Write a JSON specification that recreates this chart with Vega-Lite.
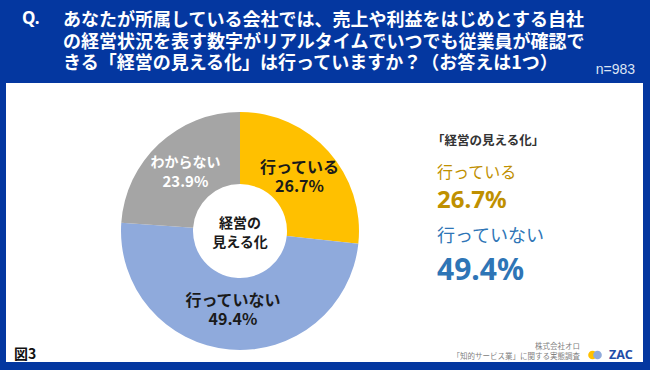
{
  "$schema": "https://vega.github.io/schema/vega-lite/v6.json",
  "width": 637,
  "height": 279,
  "autosize": {"type": "none"},
  "padding": {"left": 6, "top": 83, "right": 7, "bottom": 8},
  "background": "#0437A0",
  "config": {"view": {"fill": "white", "stroke": null}, "font": "Noto Sans CJK JP"},
  "data": {"values": [
    {"answer": "行っている", "share": 0.267, "rank": 1},
    {"answer": "行っていない", "share": 0.494, "rank": 2},
    {"answer": "わからない", "share": 0.239, "rank": 3}
  ]},
  "layer": [
    {
      "mark": {"type": "arc", "outerRadius": 119, "innerRadius": 47},
      "encoding": {
        "x": {"value": 234},
        "y": {"value": 148},
        "theta": {"field": "share", "type": "quantitative", "stack": true},
        "order": {"field": "rank", "type": "quantitative"},
        "color": {"field": "answer", "type": "nominal", "legend": null,
          "scale": {"domain": ["行っている", "行っていない", "わからない"], "range": ["#FFC000", "#8FAADC", "#A5A5A5"]}}
      }
    },
    {
      "mark": {"type": "text", "radius": 80, "dy": -10, "fontWeight": "bold", "align": "center", "baseline": "middle"},
      "encoding": {
        "x": {"value": 234},
        "y": {"value": 148},
        "theta": {"field": "share", "type": "quantitative", "stack": true},
        "order": {"field": "rank", "type": "quantitative"},
        "text": {"field": "answer", "type": "nominal"},
        "color": {"condition": {"test": "datum.answer === 'わからない'", "value": "white"}, "value": "#1a1a1a"},
        "size": {"condition": {"test": "datum.answer === 'わからない'", "value": 14}, "value": 16}
      }
    },
    {
      "mark": {"type": "text", "radius": 80, "dy": 9.5, "fontWeight": "bold", "align": "center", "baseline": "middle"},
      "encoding": {
        "x": {"value": 234},
        "y": {"value": 148},
        "theta": {"field": "share", "type": "quantitative", "stack": true},
        "order": {"field": "rank", "type": "quantitative"},
        "text": {"field": "share", "type": "quantitative", "format": ".1%"},
        "color": {"condition": {"test": "datum.answer === 'わからない'", "value": "white"}, "value": "#1a1a1a"},
        "size": {"condition": {"test": "datum.answer === 'わからない'", "value": 15}, "value": 16}
      }
    },
    {
      "data": {"values": [{}]},
      "mark": {"type": "text", "fontWeight": "bold", "fontSize": 14, "color": "#1a1a1a", "align": "center", "baseline": "middle", "text": ["経営の", "見える化"], "lineHeight": 19},
      "encoding": {"x": {"value": 234}, "y": {"value": 141}}
    },
    {
      "data": {"values": [{}]},
      "mark": {"type": "text", "text": "Q.", "fontWeight": "bold", "fontSize": 17, "color": "white", "align": "left", "baseline": "middle", "font": "Noto Sans"},
      "encoding": {"x": {"value": 16}, "y": {"value": -64.5}}
    },
    {
      "data": {"values": [{}]},
      "mark": {"type": "text", "text": ["あなたが所属している会社では、売上や利益をはじめとする自社", "の経営状況を表す数字がリアルタイムでいつでも従業員が確認で", "きる「経営の見える化」は行っていますか？（お答えは1つ）"], "fontWeight": "bold", "fontSize": 18, "lineHeight": 21.7, "color": "white", "align": "left", "baseline": "middle"},
      "encoding": {"x": {"value": 57}, "y": {"value": -62}}
    },
    {
      "data": {"values": [{}]},
      "mark": {"type": "text", "text": "n=983", "fontSize": 14, "color": "#DCE4F4", "align": "right", "baseline": "middle", "font": "Liberation Sans"},
      "encoding": {"x": {"value": 629}, "y": {"value": -13}}
    },
    {
      "data": {"values": [{}]},
      "mark": {"type": "text", "text": "「経営の見える化」", "fontWeight": "bold", "fontSize": 12.5, "color": "#333333", "align": "left", "baseline": "middle"},
      "encoding": {"x": {"value": 426}, "y": {"value": 58}}
    },
    {
      "data": {"values": [{}]},
      "mark": {"type": "text", "text": "行っている", "fontSize": 16, "color": "#BF9000", "align": "left", "baseline": "middle"},
      "encoding": {"x": {"value": 431}, "y": {"value": 90}}
    },
    {
      "transform": [{"filter": "datum.answer === '行っている'"}],
      "mark": {"type": "text", "fontSize": 24, "fontWeight": "bold", "color": "#BF9000", "align": "left", "baseline": "middle", "font": "Noto Sans"},
      "encoding": {"x": {"value": 431}, "y": {"value": 118}, "text": {"field": "share", "type": "quantitative", "format": ".1%"}}
    },
    {
      "data": {"values": [{}]},
      "mark": {"type": "text", "text": "行っていない", "fontSize": 18, "color": "#2E75B6", "align": "left", "baseline": "middle"},
      "encoding": {"x": {"value": 431}, "y": {"value": 154}}
    },
    {
      "transform": [{"filter": "datum.answer === '行っていない'"}],
      "mark": {"type": "text", "fontSize": 30, "fontWeight": "bold", "color": "#2E75B6", "align": "left", "baseline": "middle", "font": "Noto Sans"},
      "encoding": {"x": {"value": 431}, "y": {"value": 188}, "text": {"field": "share", "type": "quantitative", "format": ".1%"}}
    },
    {
      "data": {"values": [{}]},
      "mark": {"type": "text", "text": "図3", "fontSize": 14, "fontWeight": "bold", "color": "#111111", "align": "left", "baseline": "middle"},
      "encoding": {"x": {"value": 8}, "y": {"value": 272}}
    },
    {
      "data": {"values": [{}]},
      "mark": {"type": "text", "text": ["株式会社オロ", "「知的サービス業」に関する実態調査"], "lineHeight": 10, "fontSize": 7.5, "color": "#808080", "align": "right", "baseline": "middle"},
      "encoding": {"x": {"value": 574}, "y": {"value": 264}}
    },
    {
      "data": {"values": [{"c": "y"}, {"c": "b"}]},
      "mark": {"type": "point", "filled": true, "shape": "circle", "size": 75, "opacity": 1},
      "encoding": {
        "x": {"field": "c", "type": "nominal", "scale": {"domain": ["y", "b"], "range": [584, 594]}, "axis": null},
        "y": {"value": 272},
        "color": {"field": "c", "type": "nominal", "scale": {"domain": ["y", "b"], "range": ["#FFC000", "#1F4EA8"]}, "legend": null}
      }
    },
    {
      "data": {"values": [{}]},
      "mark": {"type": "text", "text": "ZAC", "fontSize": 12.5, "fontWeight": "bold", "color": "#1F4EA8", "align": "left", "baseline": "middle", "letterSpacing": 3, "font": "Noto Sans"},
      "encoding": {"x": {"value": 603}, "y": {"value": 272}}
    }
  ]
}
